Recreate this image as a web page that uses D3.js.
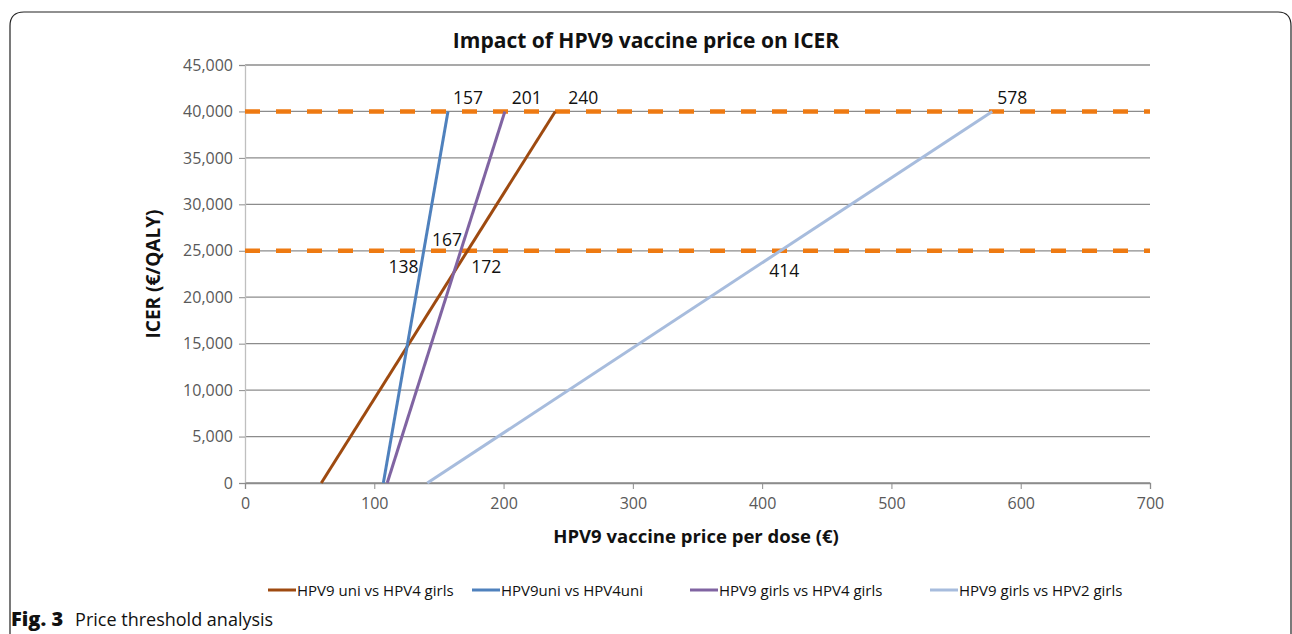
<!DOCTYPE html>
<html>
<head>
<meta charset="utf-8">
<script src="https://cdn.jsdelivr.net/npm/d3@7"></script>
<style>
  body { margin: 0; background: #fff; }
  svg text { font-family: "Open Sans", "Noto Sans", sans-serif; }
</style>
</head>
<body>
<div id="chart"></div>
<script>
// series: price (€) at ICER = 0 and at ICER = 40,000
const seriesNames = ["HPV9 uni vs HPV4 girls", "HPV9uni vs HPV4uni", "HPV9 girls vs HPV4 girls", "HPV9 girls vs HPV2 girls"];
const seriesColors = ["#9e4a10", "#4f81bd", "#8064a2", "#a7bcdd"];
const seriesPoints = [
  [[59, 0], [240, 40000]],
  [[107, 0], [157, 40000]],
  [[110, 0], [201, 40000]],
  [[141, 0], [578, 40000]]
];
const thresholds = [25000, 40000];
const xTicks = [0, 100, 200, 300, 400, 500, 600, 700];
const yTicks = [0, 5000, 10000, 15000, 20000, 25000, 30000, 35000, 40000, 45000];
// price labels at thresholds: [price, icer, dx, dy]
const priceLabels = [
  [157, 40000, 20, -7], [201, 40000, 22, -7], [240, 40000, 28, -7], [578, 40000, 20, -7],
  [167, 25000, -14, -5], [138, 25000, -20, 22], [172, 25000, 19, 22], [414, 25000, 4, 26]
];

const width = 1292, height = 634;
const svg = d3.select("#chart").append("svg")
  .attr("width", width).attr("height", height);

// panel frame
svg.append("path")
  .attr("d", "M10,634 L10,26 Q10,12 24,12 L1278,12 Q1291,12 1291,26 L1291,634")
  .attr("fill", "none").attr("stroke", "#222").attr("stroke-width", 1.2);

const x = d3.scaleLinear().domain([0, 700]).range([245, 1150]);
const y = d3.scaleLinear().domain([0, 45000]).range([483, 65]);

// gridlines
svg.append("g").selectAll("line")
  .data(yTicks)
  .enter().append("line")
  .attr("x1", x(0)).attr("x2", x(700))
  .attr("y1", d => y(d)).attr("y2", d => y(d))
  .attr("stroke", "#8c8c8c").attr("stroke-width", 1.3);

// y axis
svg.append("g")
  .attr("transform", "translate(" + x(0) + ",0)")
  .call(d3.axisLeft(y).tickValues(yTicks).tickFormat(d3.format(",")).tickSize(6).tickPadding(6))
  .call(g => g.select(".domain").attr("stroke", "#bfbfbf").attr("stroke-width", 1.3))
  .call(g => g.selectAll(".tick line").attr("stroke", "#8c8c8c"))
  .call(g => g.selectAll("text").attr("fill", "#595959").style("font-size", "16px"));

// x axis
svg.append("g")
  .attr("transform", "translate(0," + y(0) + ")")
  .call(d3.axisBottom(x).tickValues(xTicks).tickSize(6).tickPadding(9))
  .call(g => g.select(".domain").attr("stroke", "#8c8c8c").attr("stroke-width", 1.3))
  .call(g => g.selectAll(".tick line").attr("stroke", "#8c8c8c"))
  .call(g => g.selectAll("text").attr("fill", "#595959").style("font-size", "16px"));

// thresholds
svg.append("g").selectAll("line")
  .data(thresholds)
  .enter().append("line")
  .attr("x1", x(0)).attr("x2", x(700))
  .attr("y1", d => y(d)).attr("y2", d => y(d))
  .attr("stroke", "#ee7a12").attr("stroke-width", 4.5)
  .attr("stroke-dasharray", "15,16");

// series lines
const line = d3.line().x(d => x(d[0])).y(d => y(d[1]));
svg.append("g").selectAll("path")
  .data(seriesPoints)
  .enter().append("path")
  .attr("d", line)
  .attr("fill", "none")
  .attr("stroke", (d, i) => seriesColors[i])
  .attr("stroke-width", 3);

// value labels
svg.append("g").selectAll("text")
  .data(priceLabels)
  .enter().append("text")
  .attr("x", d => x(d[0]) + d[2])
  .attr("y", d => y(d[1]) + d[3])
  .attr("text-anchor", "middle")
  .style("font-size", "17.5px").attr("fill", "#111")
  .text(d => d[0]);

// titles
svg.append("text")
  .attr("x", 646).attr("y", 48)
  .attr("text-anchor", "middle")
  .style("font-size", "21px").style("font-weight", "bold").attr("fill", "#111")
  .text("Impact of HPV9 vaccine price on ICER");

svg.append("text")
  .attr("x", 696).attr("y", 543)
  .attr("text-anchor", "middle")
  .style("font-size", "18.5px").style("font-weight", "bold").attr("fill", "#111")
  .text("HPV9 vaccine price per dose (€)");

svg.append("text")
  .attr("transform", "translate(160,274) rotate(-90)")
  .attr("text-anchor", "middle")
  .style("font-size", "19px").style("font-weight", "bold").attr("fill", "#111")
  .text("ICER (€/QALY)");

// legend
const legendX = [268, 472, 690, 930];
const legend = svg.append("g").selectAll("g")
  .data(seriesNames)
  .enter().append("g")
  .attr("transform", (d, i) => "translate(" + legendX[i] + ",590)");
legend.append("line")
  .attr("x1", 0).attr("x2", 28).attr("y1", 0).attr("y2", 0)
  .attr("stroke", (d, i) => seriesColors[i]).attr("stroke-width", 3);
legend.append("text")
  .attr("x", 29).attr("y", 6)
  .style("font-size", "15px").attr("fill", "#111")
  .text(d => d);

// caption
const cap = svg.append("text").attr("x", 11).attr("y", 626).attr("fill", "#111");
cap.append("tspan").style("font-weight", "800").style("font-size", "20px").text("Fig. 3");
cap.append("tspan").attr("dx", 12).style("font-size", "18px").text("Price threshold analysis");
</script>
</body>
</html>
